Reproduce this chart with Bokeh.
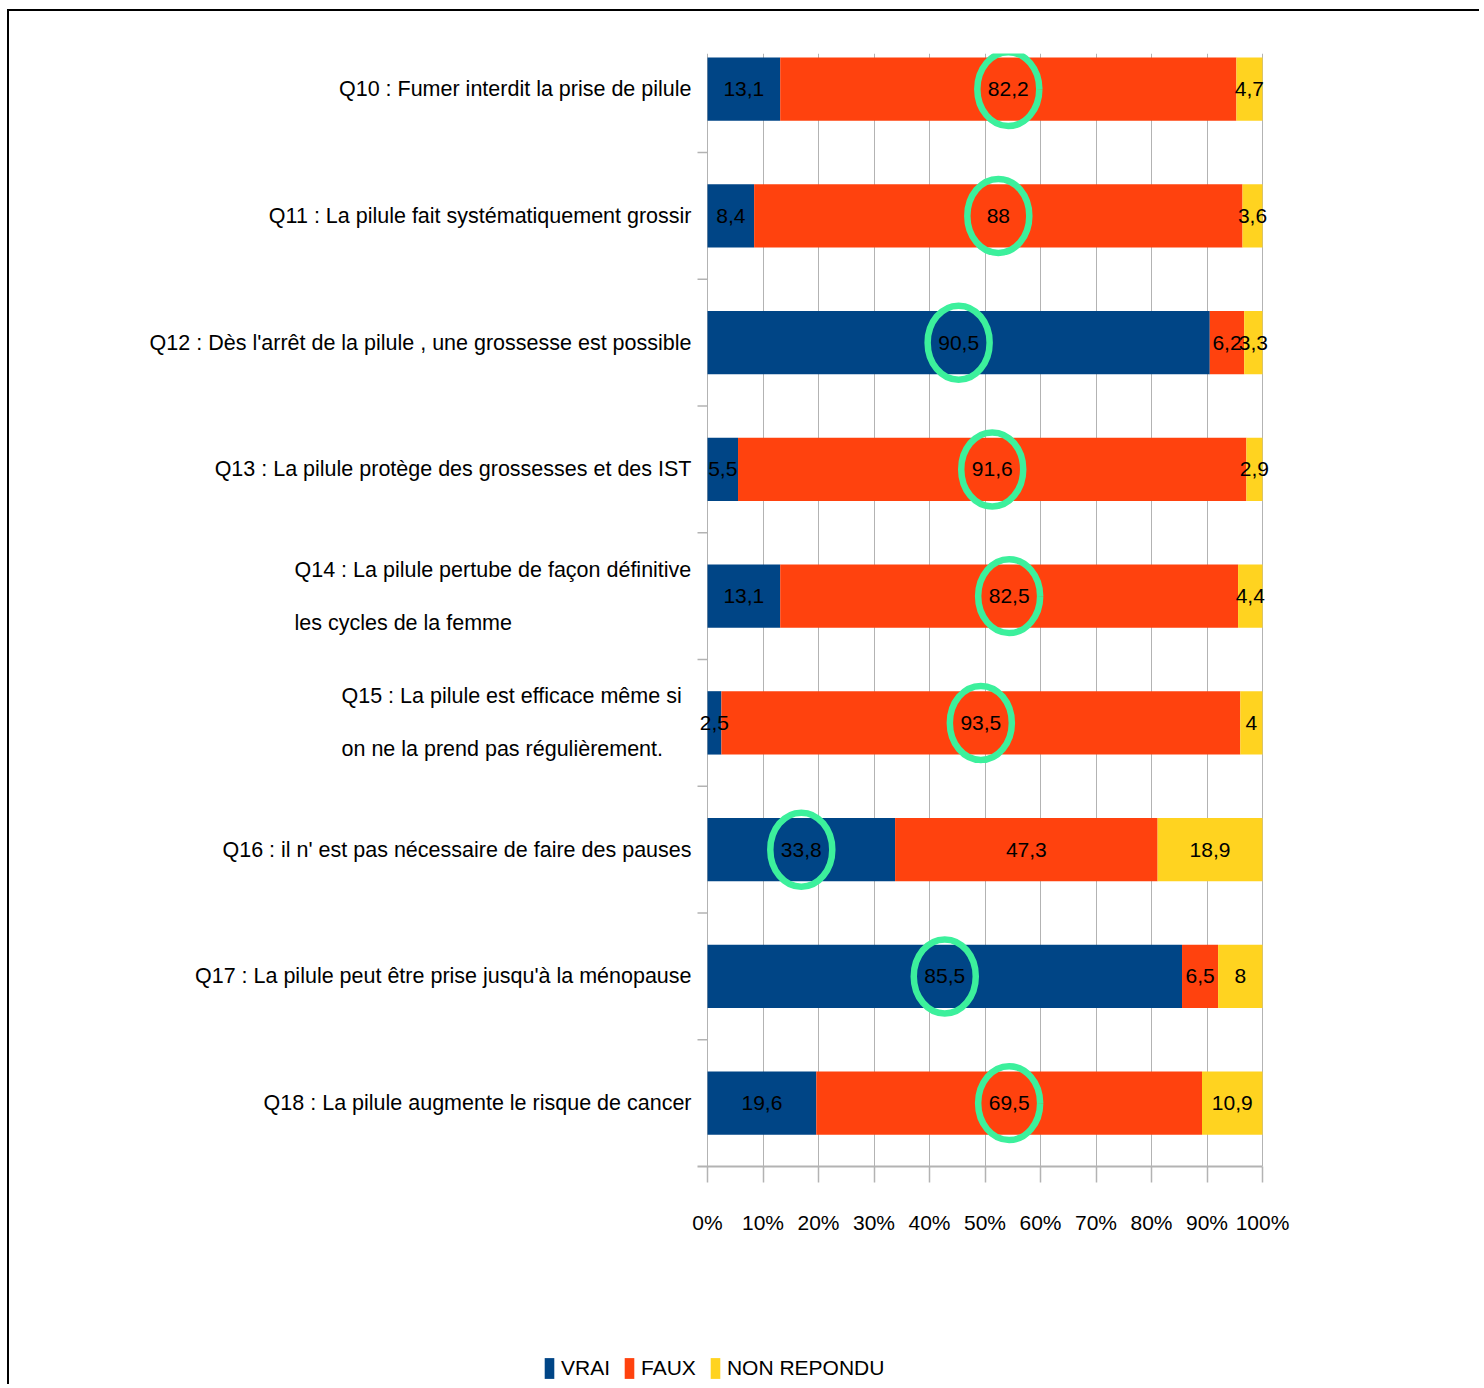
from bokeh.plotting import figure
from bokeh.models import (ColumnDataSource, FixedTicker, PrintfTickFormatter, Range1d,
                          Legend, LegendItem)
from bokeh.layouts import column
from bokeh.core.properties import value
from bokeh.embed import file_html
from bokeh.resources import INLINE

# ---------------- data ----------------
questions = [
    "Q10 : Fumer interdit la prise de pilule",
    "Q11 : La pilule fait systématiquement grossir",
    "Q12 : Dès l'arrêt de la pilule , une grossesse est possible",
    "Q13 : La pilule protège des grossesses et des IST",
    "Q14 : La pilule pertube de façon définitive\nles cycles de la femme",
    "Q15 : La pilule est efficace même si\non ne la prend pas régulièrement.",
    "Q16 : il n' est pas nécessaire de faire des pauses",
    "Q17 : La pilule peut être prise jusqu'à la ménopause",
    "Q18 : La pilule augmente le risque de cancer",
]
vrai = [13.1, 8.4, 90.5, 5.5, 13.1, 2.5, 33.8, 85.5, 19.6]
faux = [82.2, 88, 6.2, 91.6, 82.5, 93.5, 47.3, 6.5, 69.5]
non_repondu = [4.7, 3.6, 3.3, 2.9, 4.4, 4, 18.9, 8, 10.9]
correct = ["FAUX", "FAUX", "VRAI", "FAUX", "FAUX", "FAUX", "VRAI", "VRAI", "FAUX"]
series = ["VRAI", "FAUX", "NON REPONDU"]
x_ticks = [0, 10, 20, 30, 40, 50, 60, 70, 80, 90, 100]

# ---------------- style / layout ----------------
COLORS = ["#004586", "#ff420e", "#ffd320"]
RING = "#3cf09c"
GRID = "#b3b3b3"
FONT_STR = "Liberation Sans"
FONT = value(FONT_STR)
FS_CAT = "21.5px"
FS = "21px"

BORDER = 2
MARGIN_X, MARGIN_Y = 7, 9
ORG_X, ORG_Y = MARGIN_X + BORDER, MARGIN_Y + BORDER   # page position of canvas origin
PX0, PXPCT = 707, 5.55       # page x of 0 %, pixels per percent
W = 1470
TOP, BOT = 53, 1166          # page y of frame top / bottom
UNIT = 126.75                # pixels per category
H_MAIN = 1234
H_LEG = 139
LABEL_RIGHT_PX = 691
MULTI_LEFT_PX = {4: 294, 5: 341}
CAT_TICK = -1.8


def to_x(px):
    return (px - PX0) / PXPCT


n = len(questions)
pos = [n - 1 - i for i in range(n)]

x_start = to_x(ORG_X)
x_end = x_start + W / PXPCT
y_start = -0.5
y_end = y_start + (BOT - TOP) / UNIT

p = figure(width=W, height=H_MAIN, x_range=Range1d(x_start, x_end),
           y_range=Range1d(y_start, y_end), toolbar_location=None,
           output_backend="svg", y_axis_location=None,
           min_border_left=0, min_border_right=0,
           min_border_top=TOP - ORG_Y,
           min_border_bottom=H_MAIN - (TOP - ORG_Y) - (BOT - TOP))
p.outline_line_color = None
p.background_fill_color = "white"
p.ygrid.visible = False
p.xgrid.ticker = FixedTicker(ticks=x_ticks)
p.xgrid.grid_line_color = GRID
p.xgrid.grid_line_width = 1

ax = p.xaxis[0]
ax.ticker = FixedTicker(ticks=x_ticks)
ax.formatter = PrintfTickFormatter(format="%d%%")
ax.bounds = (CAT_TICK, 100)
ax.axis_line_color = GRID
ax.axis_line_width = 2
ax.major_tick_line_color = GRID
ax.major_tick_line_width = 1.5
ax.major_tick_out = 16
ax.major_tick_in = 0
ax.minor_tick_line_color = None
ax.major_label_text_font = FONT_STR
ax.major_label_text_font_size = FS
ax.major_label_text_color = "black"
ax.major_label_standoff = 28

# bars
src = ColumnDataSource(dict(pos=pos, VRAI=vrai, FAUX=faux, NR=non_repondu))
p.hbar_stack(["VRAI", "FAUX", "NR"], y="pos", height=0.5, source=src,
             fill_color=COLORS, line_color=None)

# category ticks between bars
bounds_y = [k + 0.5 for k in range(n - 1)]
p.segment(x0=[CAT_TICK] * len(bounds_y), x1=[0] * len(bounds_y),
          y0=bounds_y, y1=bounds_y, line_color=GRID, line_width=1.5)

# value labels (centres of segments)
lx, ly, lt = [], [], []
centres = {}
for i in range(n):
    vals = [vrai[i], faux[i], non_repondu[i]]
    left = 0
    for s, v in zip(series, vals):
        c = left + v / 2
        centres[(i, s)] = c
        lx.append(c)
        ly.append(pos[i])
        lt.append(f"{v:g}".replace(".", ","))
        left += v

# highlight rings around the correct answer
rx = [centres[(i, correct[i])] for i in range(n)]
p.ellipse(x=rx, y=pos, width=62, height=74, width_units="screen",
          height_units="screen", fill_color=None, line_color=RING, line_width=6.5)

p.text(x=lx, y=ly, text=lt, text_align="center", text_baseline="middle",
       text_font=FONT, text_font_size=FS, text_color="black")

# category labels
single = [i for i in range(n) if "\n" not in questions[i]]
multi = [i for i in range(n) if "\n" in questions[i]]
p.text(x=[to_x(LABEL_RIGHT_PX)] * len(single), y=[pos[i] for i in single],
       text=[questions[i] for i in single], text_align="right",
       text_baseline="middle", text_font=FONT, text_font_size=FS_CAT,
       text_color="black")
p.text(x=[to_x(MULTI_LEFT_PX[i]) for i in multi], y=[pos[i] for i in multi],
       text=[questions[i] for i in multi], text_align="left",
       text_baseline="middle", text_font=FONT, text_font_size=FS_CAT,
       text_color="black", text_line_height=2.2)

# legend figure
p_leg = figure(width=W, height=H_LEG, toolbar_location=None, output_backend="svg",
               x_axis_location=None, y_axis_location=None, min_border=0,
               x_range=Range1d(0, 1), y_range=Range1d(0, 1))
p_leg.outline_line_color = None
p_leg.xgrid.visible = False
p_leg.ygrid.visible = False
rs = [p_leg.hbar(y=[-10], right=[0.5], height=0.5, fill_color=c, line_color=None)
      for c in COLORS]
legend = Legend(items=[LegendItem(label=s, renderers=[r]) for s, r in zip(series, rs)],
                location=(543 - ORG_X, 3), orientation="horizontal",
                glyph_width=12, glyph_height=26, label_standoff=6, spacing=13,
                padding=0, margin=0, border_line_color=None,
                background_fill_alpha=0, label_text_font=FONT_STR,
                label_text_font_size=FS, label_text_color="black")
p_leg.add_layout(legend)

layout = column(p, p_leg, spacing=0,
                styles={"border-top": f"{BORDER}px solid black",
                        "border-left": f"{BORDER}px solid black",
                        "margin-left": f"{MARGIN_X}px", "margin-top": f"{MARGIN_Y}px"})

open("out.html", "w").write(file_html(layout, INLINE))
